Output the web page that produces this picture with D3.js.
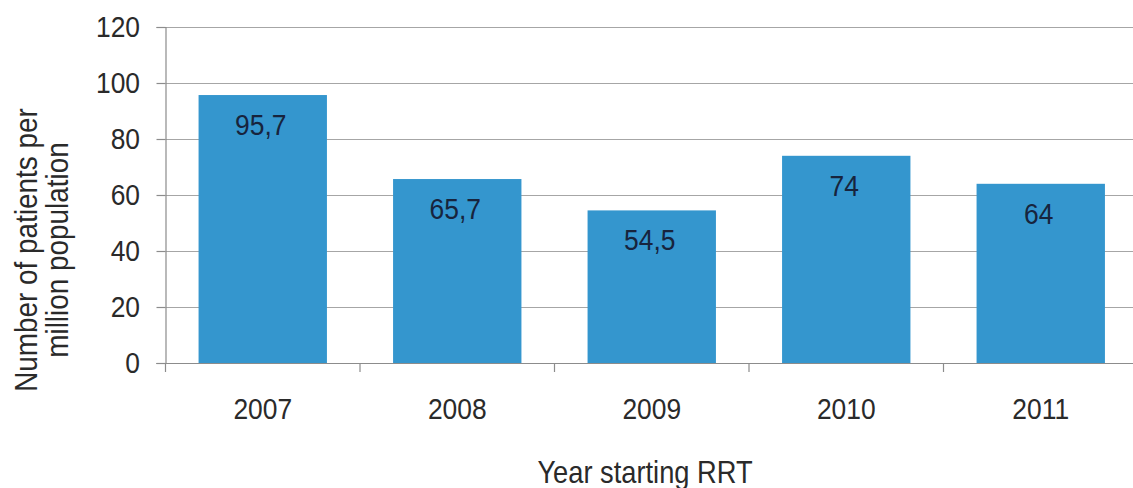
<!DOCTYPE html>
<html>
<head>
<meta charset="utf-8">
<script src="https://cdn.jsdelivr.net/npm/d3@7"></script>
<style>
  html, body { margin: 0; padding: 0; background: #fff; }
  svg { display: block; }
  text { font-family: "Liberation Sans", Arial, sans-serif; }
</style>
</head>
<body>
<svg id="chart" width="1133" height="488"></svg>
<script>
// Patients starting renal replacement therapy, per million population
const years = ["2007", "2008", "2009", "2010", "2011"];
const patientsPerMillion = [95.7, 65.7, 54.5, 74, 64];
const valueLabels = ["95,7", "65,7", "54,5", "74", "64"];
const yTicks = [0, 20, 40, 60, 80, 100, 120];

const svg = d3.select("#chart");
const plotLeft = 165.5, plotRight = 1138, plotTop = 27, plotBottom = 363;
const FONT = 30, SQUEEZE = 0.88;  // tall, narrow lettering

const x = d3.scaleBand()
  .domain(years)
  .range([plotLeft, plotRight])
  .paddingInner(0.34)
  .paddingOuter(0.17);

const y = d3.scaleLinear().domain([0, 120]).range([plotBottom, plotTop]);

// places a horizontally condensed text label
function label(parent, px, py, str, anchor, fill, size) {
  parent.append("g")
    .attr("transform", `translate(${px},${py}) scale(${SQUEEZE},1)`)
    .append("text")
    .attr("text-anchor", anchor)
    .attr("font-size", size || FONT)
    .attr("fill", fill)
    .text(str);
}

// horizontal gridlines
svg.append("g")
  .selectAll("line")
  .data(yTicks.filter(d => d > 0))
  .join("line")
  .attr("x1", plotLeft).attr("x2", 1133)
  .attr("y1", d => Math.round(y(d)) + 0.5)
  .attr("y2", d => Math.round(y(d)) + 0.5)
  .attr("stroke", "#a6a6a6")
  .attr("stroke-width", 1.2);

// bars
svg.append("g")
  .selectAll("rect")
  .data(years)
  .join("rect")
  .attr("x", d => x(d))
  .attr("width", x.bandwidth())
  .attr("y", (d, i) => y(patientsPerMillion[i]))
  .attr("height", (d, i) => plotBottom - y(patientsPerMillion[i]))
  .attr("fill", "#3496ce");

// value labels inside bars
const valG = svg.append("g");
years.forEach((d, i) => {
  label(valG, x(d) + x.bandwidth() / 2 - 2, y(patientsPerMillion[i]) + 40,
        valueLabels[i], "middle", "#17243d");
});

// y axis line and ticks
const yAxis = svg.append("g")
  .attr("transform", `translate(${plotLeft},0)`)
  .call(d3.axisLeft(y).tickValues(yTicks).tickSize(9).tickFormat(""));
yAxis.selectAll("path, line").attr("stroke", "#8c8c8c").attr("stroke-width", 1.2);
const yLab = svg.append("g");
yTicks.forEach(t => label(yLab, 140, y(t) + 10, String(t), "end", "#2a2a2a"));

// x axis baseline and ticks at band boundaries
const xg = svg.append("g");
xg.append("line")
  .attr("x1", plotLeft - 9).attr("x2", 1133)
  .attr("y1", plotBottom + 0.5).attr("y2", plotBottom + 0.5)
  .attr("stroke", "#8c8c8c").attr("stroke-width", 1.2);
const step = x.step();
xg.selectAll("line.tick")
  .data(d3.range(years.length + 1).map(i => plotLeft + i * step))
  .join("line")
  .attr("class", "tick")
  .attr("x1", d => d).attr("x2", d => d)
  .attr("y1", plotBottom).attr("y2", plotBottom + 9)
  .attr("stroke", "#8c8c8c").attr("stroke-width", 1.2);

years.forEach(d => label(xg, x(d) + x.bandwidth() / 2, 419, d, "middle", "#2a2a2a"));

// axis titles
label(svg, 645, 483, "Year starting RRT", "middle", "#2a2a2a", 31);

const yTitle = svg.append("g")
  .attr("transform", "translate(0,250) rotate(-90) scale(0.9,1)")
  .append("text")
  .attr("text-anchor", "middle")
  .attr("font-size", 31)
  .attr("fill", "#2a2a2a");
yTitle.append("tspan").attr("x", 0).attr("y", 37).text("Number of patients per");
yTitle.append("tspan").attr("x", 0).attr("y", 68).text("million population");
</script>
</body>
</html>
